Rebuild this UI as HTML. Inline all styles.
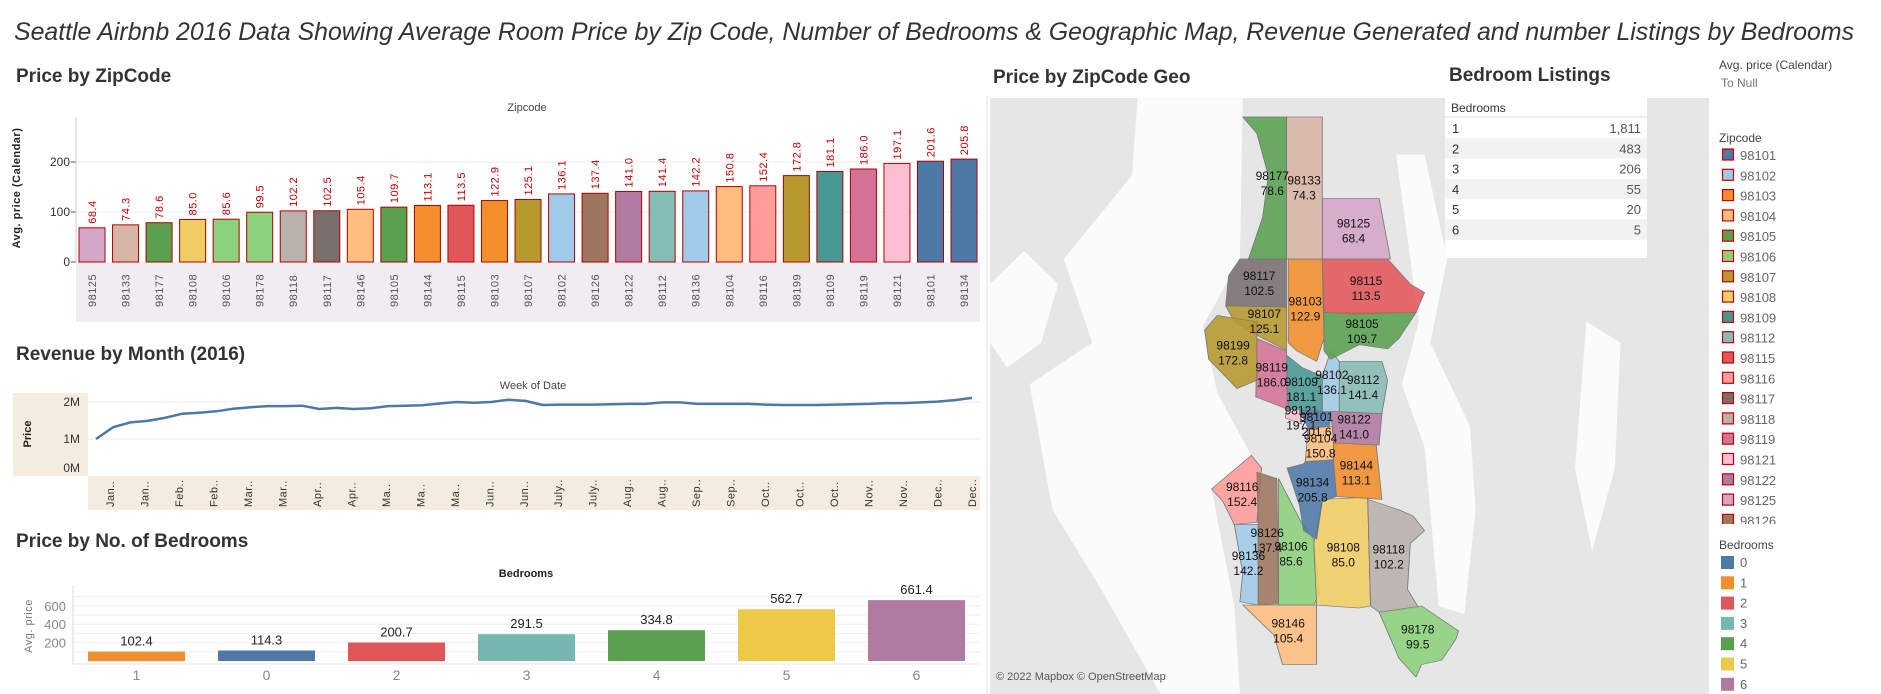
<!DOCTYPE html>
<html><head><meta charset="utf-8">
<style>
html,body{margin:0;padding:0;background:#fff;width:1881px;height:694px;overflow:hidden}
svg{display:block;font-family:"Liberation Sans Narrow","Liberation Sans",sans-serif}
</style></head>
<body>
<svg id="root" width="1881" height="694" viewBox="0 0 1881 694">
<text x="14" y="40" font-size="25" font-style="italic" fill="#333" textLength="1840" lengthAdjust="spacingAndGlyphs">Seattle Airbnb 2016 Data Showing Average Room Price by Zip Code, Number of Bedrooms &amp; Geographic Map, Revenue Generated and number Listings by Bedrooms</text>
<text x="16" y="82" font-size="19" font-weight="bold" fill="#333">Price by ZipCode</text>
<text x="16" y="360" font-size="19" font-weight="bold" fill="#333">Revenue by Month (2016)</text>
<text x="16" y="547" font-size="19" font-weight="bold" fill="#333">Price by No. of Bedrooms</text>
<text x="993" y="83" font-size="19" font-weight="bold" fill="#333">Price by ZipCode Geo</text>
<line x1="987" y1="96" x2="987" y2="694" stroke="#ddd"/>
<g id="zip"></g><g id="rev"></g><g id="bed"></g><g id="map"></g><g id="tbl"></g><g id="leg"></g>
<text x="1449" y="81" font-size="19" font-weight="bold" fill="#333">Bedroom Listings</text>
</svg>
<script>
const NS="http://www.w3.org/2000/svg";
// Zipcode chart data
const zipCats=["98125","98133","98177","98108","98106","98178","98118","98117","98146","98105","98144","98115","98103","98107","98102","98126","98122","98112","98136","98104","98116","98199","98109","98119","98121","98101","98134"];
const zipVals=[68.4,74.3,78.6,85.0,85.6,99.5,102.2,102.5,105.4,109.7,113.1,113.5,122.9,125.1,136.1,137.4,141.0,141.4,142.2,150.8,152.4,172.8,181.1,186.0,197.1,201.6,205.8];
const zipTicks=[0,100,200];
// Revenue data (millions)
const revVals=[1.00,1.32,1.45,1.49,1.57,1.68,1.71,1.75,1.82,1.86,1.89,1.89,1.90,1.81,1.84,1.81,1.83,1.89,1.90,1.91,1.96,2.00,1.98,2.00,2.06,2.03,1.92,1.93,1.93,1.93,1.94,1.95,1.95,1.99,1.99,1.95,1.95,1.95,1.95,1.93,1.92,1.92,1.92,1.93,1.94,1.95,1.97,1.97,1.99,2.01,2.05,2.11];
const revLabels=["Jan..","Jan..","Feb..","Feb..","Mar..","Mar..","Apr..","Apr..","Ma..","Ma..","Ma..","Jun..","Jun..","July..","July..","Aug..","Aug..","Sep..","Sep..","Oct..","Oct..","Oct..","Nov..","Nov..","Dec..","Dec.."];
const revTicks=[0,1,2];
const revTickLabels=["0M","1M","2M"];
// Bedroom chart data
const bedCats=["1","0","2","3","4","5","6"];
const bedVals=[102.4,114.3,200.7,291.5,334.8,562.7,661.4];
const bedTicks=[200,400,600];
// Listings table
const listBeds=["1","2","3","4","5","6"];
const listCounts=["1,811","483","206","55","20","5"];
// Legend
const legZips=["98101","98102","98103","98104","98105","98106","98107","98108","98109","98112","98115","98116","98117","98118","98119","98121","98122","98125","98126"];
const legBeds=["0","1","2","3","4","5","6"];

const zipColor={"98101":"#4e79a7","98102":"#a0cbe8","98103":"#f28e2b","98104":"#ffbe7d","98105":"#59a14f","98106":"#8cd17d","98107":"#b6992d","98108":"#f1ce63","98109":"#499894","98112":"#86bcb6","98115":"#e15759","98116":"#ff9d9a","98117":"#79706e","98118":"#bab0ac","98119":"#d37295","98121":"#fabfd2","98122":"#b07aa1","98125":"#d4a6c8","98126":"#9d7660","98133":"#d7b5a6","98134":"#4e79a7","98136":"#a0cbe8","98144":"#f28e2b","98146":"#ffbe7d","98177":"#59a14f","98178":"#8cd17d","98199":"#b6992d"};
const bedColor={"0":"#4e79a7","1":"#f28e2b","2":"#e15759","3":"#76b7b2","4":"#59a14f","5":"#edc948","6":"#b07aa1"};

function mk(tag,attrs,parent,text){const e=document.createElementNS(NS,tag);for(const k in attrs)e.setAttribute(k,attrs[k]);if(text!==undefined)e.textContent=text;parent.appendChild(e);return e;}

// ---------- Zipcode chart ----------
(function(){
const g=document.getElementById('zip');
const x0=79,pitch=33.54,bw=26,yBase=262,ppu=0.5;
const y=v=>yBase-v*ppu;
let t=mk('text',{x:527,y:111,'font-size':11,fill:'#444','text-anchor':'middle'},g,'Zipcode');


mk('rect',{x:76,y:262,width:904,height:60,fill:'#f1ebf2'},g);
zipTicks.forEach(v=>{
 if(v>0) mk('line',{x1:76,x2:980,y1:y(v),y2:y(v),stroke:'#eee'},g);
 const tl=mk('text',{x:70,y:y(v)+4,'font-size':12,fill:'#333','text-anchor':'end'},g,String(v));
 
 
 mk('line',{x1:71,x2:76,y1:y(v),y2:y(v),stroke:'#555'},g);
});
mk('line',{x1:76,x2:76,y1:117,y2:262,stroke:'#ccc'},g);
const yt=mk('text',{transform:'translate(20,188) rotate(-90)','font-size':11,'font-weight':'bold','font-family':'Liberation Sans, sans-serif',fill:'#222','text-anchor':'middle','letter-spacing':'0.5'},g,'Avg. price (Calendar)');


zipCats.forEach((c,i)=>{
 const bx=x0+i*pitch, by=y(zipVals[i]);
 const r=mk('rect',{x:bx,y:by,width:bw,height:yBase-by,fill:zipColor[c],stroke:'#b00000','stroke-width':1},g);
 
 
 const cx=bx+bw/2;
 const vl=mk('text',{transform:`translate(${cx+4},${by-4}) rotate(-90)`,'font-size':11,'font-family':'Liberation Sans, sans-serif',fill:'#c00000','letter-spacing':'0.5'},g,zipVals[i].toFixed(1));
 
 
 const xl=mk('text',{transform:`translate(${cx+4},${307}) rotate(-90)`,'font-size':11,'font-family':'Liberation Sans, sans-serif',fill:'#555','letter-spacing':'0.5'},g,c);
 
 
});
})();

// ---------- Revenue chart ----------
(function(){
const g=document.getElementById('rev');
const xA=96,xB=972,yZero=476,ppm=37;
const x=i=>xA+i*(xB-xA)/(revVals.length-1);
const y=v=>yZero-v*ppm;
let t=mk('text',{x:533,y:389,'font-size':11,fill:'#444','text-anchor':'middle'},g,'Week of Date');


mk('rect',{x:13,y:393,width:75,height:83,fill:'#f4eddf'},g);
mk('rect',{x:88,y:476,width:892,height:34,fill:'#f4eddf'},g);
revTicks.forEach((v,i)=>{
 if(v>0) mk('line',{x1:88,x2:980,y1:y(v),y2:y(v),stroke:'#eee'},g);
 const tl=mk('text',{x:80,y:Math.min(y(v)+4,472),'font-size':12,fill:'#333','text-anchor':'end'},g,revTickLabels[i]);
 
 
});
const yt=mk('text',{transform:'translate(31,434) rotate(-90)','font-size':11,'font-weight':'bold','font-family':'Liberation Sans, sans-serif',fill:'#222','text-anchor':'middle'},g,'Price');


const pts=revVals.map((v,i)=>x(i).toFixed(1)+','+y(v).toFixed(1)).join(' ');
const pl=mk('polyline',{points:pts,fill:'none',stroke:'#4e79a7','stroke-width':2.5,'stroke-linejoin':'round'},g);


revLabels.forEach((l,i)=>{
 const lx=110+i*(972-110)/(revLabels.length-1);
 const xl=mk('text',{transform:`translate(${lx+4},507) rotate(-90)`,'font-size':11,'font-family':'Liberation Sans, sans-serif',fill:'#333','letter-spacing':'0.5'},g,l);
 
 
});
})();

// ---------- Bedroom chart ----------
(function(){
const g=document.getElementById('bed');
const x0=88,pitch=130,bw=97,yBase=661,ppu=0.092;
const y=v=>yBase-v*ppu;
let t=mk('text',{x:526,y:577,'font-size':11,'font-weight':'bold',fill:'#222','text-anchor':'middle'},g,'Bedrooms');


for(let v=100;v<=700;v+=100) mk('line',{x1:73,x2:980,y1:y(v),y2:y(v),stroke:'#eee'},g);
mk('line',{x1:73,x2:73,y1:585,y2:664,stroke:'#ddd'},g);
mk('line',{x1:73,x2:980,y1:664,y2:664,stroke:'#e5e5e5'},g);
bedTicks.forEach(v=>{
 const tl=mk('text',{x:66,y:y(v)+5,'font-size':13,fill:'#888','text-anchor':'end'},g,String(v));
 
 
});
const yt=mk('text',{transform:'translate(32,626) rotate(-90)','font-size':11,'font-family':'Liberation Sans, sans-serif',fill:'#777','text-anchor':'middle','letter-spacing':'0.5'},g,'Avg. price');


bedCats.forEach((c,i)=>{
 const bx=x0+i*pitch,by=y(bedVals[i]);
 const r=mk('rect',{x:bx,y:by,width:bw,height:yBase-by,fill:bedColor[c]},g);
 
 
 const vl=mk('text',{x:bx+bw/2,y:by-6,'font-size':13,fill:'#222','text-anchor':'middle'},g,bedVals[i].toFixed(1));
 
 
 const xl=mk('text',{x:bx+bw/2,y:680,'font-size':14,fill:'#888','text-anchor':'middle'},g,c);
 
 
});
})();

// ---------- Map ----------
const zipPolys={
"98177":[[445,160],[522,160],[522,500],[455,500],[480,400],[490,300],[470,200]],
"98133":[[522,160],[585,160],[585,500],[522,500]],
"98125":[[585,355],[685,355],[705,500],[585,500]],
"98117":[[440,500],[522,500],[522,615],[415,612],[420,540]],
"98103":[[525,500],[585,500],[588,690],[575,745],[540,720],[525,700]],
"98115":[[585,500],[700,500],[740,560],[765,580],[750,628],[640,632],[588,628]],
"98107":[[415,612],[522,615],[522,718],[480,690],[430,650]],
"98105":[[588,628],[750,628],[720,690],[700,715],[650,705],[600,740],[588,720]],
"98199":[[400,635],[470,650],[470,790],[435,810],[385,740],[378,670]],
"98119":[[470,690],[522,720],[525,860],[468,830]],
"98109":[[522,730],[550,760],[585,780],[585,865],[522,860]],
"98102":[[585,780],[600,720],[615,745],[615,865],[585,865]],
"98112":[[615,745],[690,745],[700,790],[690,870],[615,865]],
"98121":[[522,860],[545,860],[548,895],[520,880]],
"98101":[[545,860],[600,865],[598,900],[560,905]],
"98122":[[600,865],[690,870],[685,945],[605,940]],
"98104":[[560,905],[605,900],[605,980],[555,985]],
"98144":[[605,940],[680,945],[690,1075],[610,1068],[605,990]],
"98134":[[523,1000],[552,990],[555,985],[605,980],[610,1068],[585,1080],[575,1170],[552,1150],[545,1090]],
"98116":[[390,1050],[460,970],[478,1000],[470,1130],[430,1135],[410,1080]],
"98126":[[470,1010],[505,1025],[508,1325],[472,1328],[472,1130]],
"98136":[[430,1135],[472,1135],[472,1328],[440,1320],[445,1250]],
"98106":[[508,1025],[548,1130],[570,1170],[580,1300],[570,1328],[508,1328]],
"98108":[[585,1075],[665,1070],[670,1330],[650,1335],[575,1328],[570,1180]],
"98118":[[665,1075],[720,1100],[745,1115],[765,1150],[740,1180],[735,1290],[755,1335],[685,1345],[670,1330]],
"98146":[[445,1328],[575,1328],[575,1470],[515,1470],[500,1400]],
"98178":[[685,1345],[760,1330],[825,1390],[820,1410],[795,1460],[760,1470],[750,1500],[720,1455]]
};
const zipMapVals={"98177":78.6,"98133":74.3,"98125":68.4,"98117":102.5,"98115":113.5,"98103":122.9,"98107":125.1,"98105":109.7,"98199":172.8,"98119":186.0,"98109":181.1,"98102":136.1,"98112":141.4,"98121":197.1,"98101":201.6,"98122":141.0,"98104":150.8,"98144":113.1,"98134":205.8,"98116":152.4,"98126":137.4,"98136":142.2,"98106":85.6,"98108":85.0,"98118":102.2,"98146":105.4,"98178":99.5};
const zipLabelPos={"98177":[497,302],"98133":[553,312],"98125":[640,415],"98117":[474,541],"98115":[662,553],"98103":[555,602],"98107":[483,631],"98105":[655,656],"98199":[428,707],"98119":[496,760],"98109":[548,794],"98102":[602,778],"98112":[657,789],"98121":[548,862],"98101":[575,878],"98122":[641,884],"98104":[582,930],"98144":[645,994],"98134":[568,1035],"98116":[444,1045],"98126":[488,1155],"98136":[455,1210],"98106":[530,1188],"98108":[622,1190],"98118":[702,1195],"98146":[525,1372],"98178":[753,1386]};
(function(){
const g=document.getElementById('map');
const sx=0.568,sy=0.418,ox=990,oy=50;
const bg=mk('rect',{x:990,y:98,width:719,height:596,fill:'#e6e6e6'},g);


const inner=mk('g',{transform:`translate(${ox},${oy}) scale(${sx},${sy})`},g);
mk('polygon',{points:'260,115 445,115 440,500 375,660 400,820 460,970 390,1050 430,1330 440,1540 300,1540 200,1300 110,1100 70,800 180,700 130,500 250,300',fill:'#fbfbfb'},inner);
mk('polygon',{points:'0,560 60,480 120,560 90,700 30,760 0,700',fill:'#fbfbfb'},inner);
mk('polygon',{points:'715,250 765,250 805,500 775,700 845,900 855,1100 835,1350 790,1330 775,1100 765,950 725,800 755,650',fill:'#fbfbfb'},inner);
mk('polygon',{points:'1050,650 1110,700 1100,1000 1060,1200 1030,1000',fill:'#fbfbfb'},inner);
Object.keys(zipPolys).forEach(z=>{
 const p=mk('polygon',{points:zipPolys[z].map(q=>q.join(',')).join(' '),fill:zipColor[z],'fill-opacity':0.88,stroke:'#777','stroke-width':1.5},inner);
 
 
});
Object.keys(zipLabelPos).forEach(z=>{
 const [px,py]=zipLabelPos[z];
 const rx=ox+px*sx, ry=oy+py*sy+4;
 const t1=mk('text',{x:rx,y:ry,'font-size':12,fill:'#111','text-anchor':'middle'},g,z);
 
 
 const t2=mk('text',{x:rx,y:ry+15,'font-size':12,fill:'#111','text-anchor':'middle'},g,zipMapVals[z].toFixed(1));
 
 
});
const attr=mk('text',{x:996,y:680,'font-size':11,fill:'#555'},g,'© 2022 Mapbox © OpenStreetMap');


mk('rect',{x:1445,y:50,width:264,height:48,fill:'#fff'},g);
})();

// ---------- Listings table ----------
(function(){
const g=document.getElementById('tbl');
mk('rect',{x:1445,y:98,width:202,height:160,fill:'#fff'},g);
const h=mk('text',{x:1451,y:112,'font-size':12,fill:'#333'},g,'Bedrooms');


mk('line',{x1:1445,x2:1647,y1:117,y2:117,stroke:'#ddd'},g);
listBeds.forEach((b,i)=>{
 const ry=118+i*20.3;
 if(i%2===1) mk('rect',{x:1445,y:ry,width:202,height:20.3,fill:'#f2f2f2'},g);
 const t=mk('text',{x:1452,y:ry+15,'font-size':13,fill:'#333'},g,b);
 
 
 const c=mk('text',{x:1641,y:ry+15,'font-size':13,fill:'#555','text-anchor':'end'},g,listCounts[i]);
 
 
});
})();

// ---------- Legends ----------
(function(){
const g=document.getElementById('leg');
let t=mk('text',{x:1719,y:69,'font-size':12,fill:'#444'},g,'Avg. price (Calendar)');


t=mk('text',{x:1721,y:87,'font-size':12,fill:'#777'},g,'To Null');


t=mk('text',{x:1719,y:142,'font-size':12,fill:'#444'},g,'Zipcode');


const clip=mk('clipPath',{id:'legclip'},g);
mk('rect',{x:1710,y:145,width:171,height:379},clip);
const zg=mk('g',{'clip-path':'url(#legclip)'},g);
legZips.forEach((z,i)=>{
 const yy=155+i*20.3;
 const s=mk('rect',{x:1722.5,y:yy-6,width:11,height:11,fill:zipColor[z],stroke:'#c00000','stroke-width':1.2},zg);
 
 
 const l=mk('text',{x:1740,y:yy+5,'font-size':13,fill:'#666'},zg,z);
 
 
});
t=mk('text',{x:1719,y:549,'font-size':12,fill:'#444'},g,'Bedrooms');


legBeds.forEach((b,i)=>{
 const yy=562+i*20.3;
 const s=mk('rect',{x:1721,y:yy-6,width:13,height:13,fill:bedColor[b]},g);
 
 
 const l=mk('text',{x:1740,y:yy+5,'font-size':13,fill:'#666'},g,b);
 
 
});
})();
</script>
</body></html>
